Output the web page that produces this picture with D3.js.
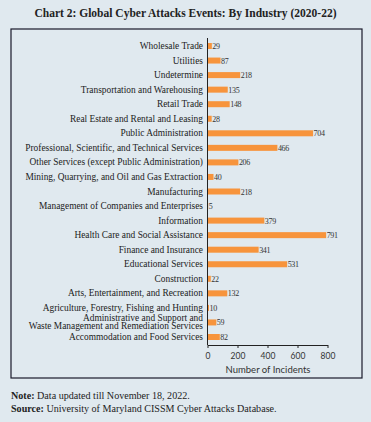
<!DOCTYPE html>
<html><head><meta charset="utf-8">
<script src="https://cdn.jsdelivr.net/npm/d3@7"></script>
<style>
html,body{margin:0;padding:0;background:#e0e9ef;}
svg{display:block;}
</style></head>
<body>
<script>
const categories = [
  "Wholesale Trade","Utilities","Undetermine","Transportation and Warehousing","Retail Trade",
  "Real Estate and Rental and Leasing","Public Administration","Professional, Scientific, and Technical Services",
  "Other Services (except Public Administration)","Mining, Quarrying, and Oil and Gas Extraction","Manufacturing",
  "Management of Companies and Enterprises","Information","Health Care and Social Assistance","Finance and Insurance",
  "Educational Services","Construction","Arts, Entertainment, and Recreation","Agriculture, Forestry, Fishing and Hunting",
  "Administrative and Support and|Waste Management and Remediation Services","Accommodation and Food Services"
];
const values = [29,87,218,135,148,28,704,466,206,40,218,5,379,791,341,531,22,132,10,59,82];
const xTicks = [0,200,400,600,800];
const title = "Chart 2: Global Cyber Attacks Events: By Industry (2020-22)";
const axisTitle = "Number of Incidents";

const W = 371, H = 422;
const svg = d3.select("body").append("svg").attr("width", W).attr("height", H);
svg.append("rect").attr("width", W).attr("height", H).attr("fill", "#e0e9ef");

const serif = "'Liberation Serif','Times New Roman',serif";
const sans = "Lato,'Open Sans',sans-serif";

svg.append("text").attr("x", 185.5).attr("y", 17).attr("text-anchor", "middle")
  .attr("font-family", serif).attr("font-weight", "bold").attr("font-size", 11.5)
  .attr("fill", "#222").text(title);

svg.append("rect").attr("x", 11).attr("y", 29).attr("width", 351).attr("height", 349)
  .attr("fill", "none").attr("stroke", "#1a1a2a").attr("stroke-width", 1.2);

const x = d3.scaleLinear().domain([0, 800]).range([207.5, 327.5]);
const y = d3.scalePoint().domain(categories).range([46, 337]);
const barH = 6;

const g = svg.append("g");
g.selectAll("rect.bar").data(categories).join("rect").attr("class","bar")
  .attr("x", x(0)).attr("y", d => y(d) - barH/2)
  .attr("width", (d,i) => x(values[i]) - x(0)).attr("height", barH)
  .attr("fill", "#f7943c");

g.selectAll("text.val").data(categories).join("text").attr("class","val")
  .attr("x", (d,i) => x(values[i]) + 0.5).attr("y", d => y(d) + 3)
  .attr("font-family", serif).attr("font-size", 8).attr("fill", "#333")
  .attr("letter-spacing", -0.3)
  .text((d,i) => values[i]);

const labels = g.selectAll("text.lab").data(categories).join("text").attr("class","lab")
  .attr("text-anchor", "end").attr("font-family", serif).attr("font-size", 9.4).attr("fill", "#222");
labels.each(function(d){
  const parts = d.split("|");
  const t = d3.select(this);
  if (parts.length === 1) {
    t.append("tspan").attr("x", 203).attr("y", y(d) + 3).text(d);
  } else {
    t.append("tspan").attr("x", 203).attr("y", y(d) - 1.5).text(parts[0]);
    t.append("tspan").attr("x", 203).attr("y", y(d) + 7).text(parts[1]);
  }
});

// y axis line
svg.append("line").attr("x1", x(0)).attr("x2", x(0)).attr("y1", 38).attr("y2", 345)
  .attr("stroke", "#222").attr("stroke-width", 1);

const xAxis = svg.append("g").attr("transform", "translate(0,345)")
  .call(d3.axisBottom(x).tickValues(xTicks).tickSize(3).tickSizeOuter(0));
xAxis.select(".domain").attr("stroke", "#222");
xAxis.selectAll(".tick line").attr("stroke", "#222");
xAxis.selectAll("text").attr("font-family", sans).attr("font-size", 8.5).attr("fill", "#333").attr("dy", "0.9em");

svg.append("text").attr("x", 268).attr("y", 373).attr("text-anchor", "middle")
  .attr("font-family", sans).attr("font-size", 9.5).attr("fill", "#333").text(axisTitle);

const n1 = svg.append("text").attr("x", 11).attr("y", 399).attr("font-family", serif).attr("font-size", 10.1).attr("fill", "#222");
n1.append("tspan").attr("font-weight", "bold").text("Note: ");
n1.append("tspan").text("Data updated till November 18, 2022.");
const n2 = svg.append("text").attr("x", 11).attr("y", 412).attr("font-family", serif).attr("font-size", 10.1).attr("fill", "#222");
n2.append("tspan").attr("font-weight", "bold").text("Source: ");
n2.append("tspan").text("University of Maryland CISSM Cyber Attacks Database.");
</script>
</body></html>
